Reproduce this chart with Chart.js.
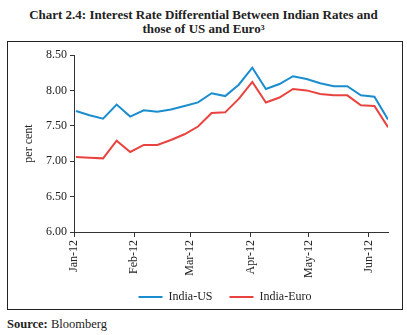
<!DOCTYPE html>
<html>
<head>
<meta charset="utf-8">
<script src="https://cdn.jsdelivr.net/npm/chart.js@4.4.0/dist/chart.umd.min.js"></script>
<style>
    body { margin: 0; background: #fff; }
    #wrap { position: relative; width: 407px; height: 335px; overflow: hidden; }
    #title {
        position: absolute; left: 0; top: 8px; width: 407px; text-align: center;
        font-family: 'Liberation Serif', serif; font-weight: bold; font-size: 13px;
        line-height: 13.5px; color: #222;
    }
    #frame {
        position: absolute; left: 7px; top: 41px; width: 394px; height: 267px;
        border: 1px solid #222;
    }
    #source {
        position: absolute; left: 7px; top: 317px;
        font-family: 'Liberation Serif', serif; font-size: 12.5px; color: #222;
    }
    #chartBox { position: absolute; left: 0; top: 0; width: 407px; height: 335px; }
</style>
</head>
<body>
<div id="wrap">
    <div id="title">Chart 2.4: Interest Rate Differential Between Indian Rates and<br>those of US and Euro³</div>
    <div id="frame"></div>
    <div id="source"><b>Source:</b> Bloomberg</div>
    <div id="chartBox"><canvas id="rateChart" width="407" height="335"></canvas></div>
</div>
<script>
//############################ Chart data ############################
// day of 2012 for each weekly observation (Jan 1 = 0)
const days = [1, 8, 15, 22, 29, 36, 43, 50, 57, 64, 71, 78, 85, 92, 99, 106, 113, 120, 127, 134, 141, 148, 155, 162];

const indiaUS = [7.71, 7.65, 7.60, 7.80, 7.63, 7.72, 7.70, 7.73, 7.78, 7.83, 7.96, 7.92,
    8.08, 8.32, 8.02, 8.09, 8.20, 8.16, 8.10, 8.06, 8.06, 7.93, 7.91, 7.59];

const indiaEuro = [7.06, 7.05, 7.04, 7.29, 7.13, 7.23, 7.23, 7.30, 7.38, 7.49, 7.68, 7.69,
    7.88, 8.12, 7.83, 7.90, 8.02, 8.00, 7.95, 7.93, 7.93, 7.79, 7.78, 7.48];

// month start positions and their labels
const monthTicks = [0, 31, 60, 91, 121, 152];
const monthLabels = ['Jan-12', 'Feb-12', 'Mar-12', 'Apr-12', 'May-12', 'Jun-12'];

const toPoints = (values) => values.map((v, i) => ({ x: days[i], y: v }));

const serif = "'Liberation Serif', serif";

// nudge the legend: a bit right of centre and up, as in the original
const legendShift = {
    id: 'legendShift',
    afterLayout: (chart) => {
        chart.legend.left += 22;
        chart.legend.right += 22;
        chart.legend.top -= 4;
        chart.legend.bottom -= 4;
    },
};

//############################ Create the chart ############################
const rateChart = new Chart(document.getElementById('rateChart'), {
    type: 'line',
    data: {
        datasets: [
            {
                label: 'India-US',
                data: toPoints(indiaUS),
                borderColor: '#1a8dcf',
                backgroundColor: '#1a8dcf',
                borderWidth: 2,
                pointRadius: 0,
                fill: false,
                tension: 0,
            },
            {
                label: 'India-Euro',
                data: toPoints(indiaEuro),
                borderColor: '#e8433f',
                backgroundColor: '#e8433f',
                borderWidth: 2,
                pointRadius: 0,
                fill: false,
                tension: 0,
            },
        ],
    },
    options: {
        responsive: false,
        animation: false,
        layout: {
            padding: { left: 18, right: 19, top: 55, bottom: 18 },
        },
        plugins: {
            legend: {
                position: 'bottom',
                labels: {
                    usePointStyle: true,
                    pointStyle: 'line',
                    pointStyleWidth: 24,
                    padding: 17,
                    color: '#222',
                    font: { family: serif, size: 12 },
                },
            },
            tooltip: { enabled: false },
        },
        scales: {
            x: {
                type: 'linear',
                min: 0,
                max: 162,
                afterBuildTicks: (scale) => {
                    scale.ticks = monthTicks.map(v => ({ value: v }));
                },
                afterFit: (scale) => {
                    scale.height = 46;
                },
                ticks: {
                    minRotation: 90,
                    maxRotation: 90,
                    color: '#222',
                    font: { family: serif, size: 12 },
                    callback: (value) => monthLabels[monthTicks.indexOf(value)],
                },
                grid: {
                    drawOnChartArea: false,
                    color: '#333',
                    tickLength: 5,
                },
                border: { color: '#333', width: 1 },
            },
            y: {
                min: 6,
                max: 8.5,
                afterFit: (scale) => {
                    scale.width = 56;
                },
                ticks: {
                    stepSize: 0.5,
                    color: '#222',
                    font: { family: serif, size: 12 },
                    callback: (value) => value.toFixed(2),
                },
                title: {
                    display: true,
                    text: 'per cent',
                    color: '#222',
                    font: { family: serif, size: 12 },
                },
                grid: {
                    drawOnChartArea: false,
                    color: '#333',
                    tickLength: 4,
                },
                border: { color: '#333', width: 1 },
            },
        },
    },
    plugins: [legendShift],
});
</script>
</body>
</html>
